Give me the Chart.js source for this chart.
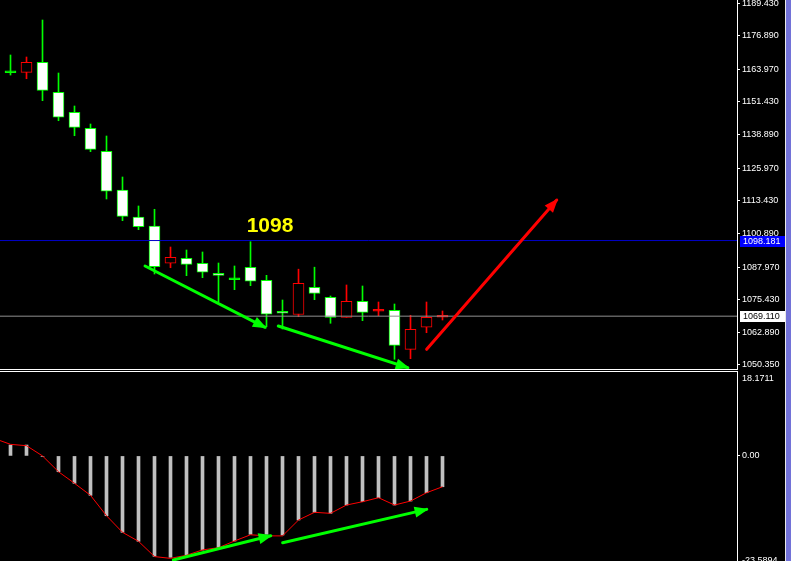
<!DOCTYPE html>
<html><head><meta charset="utf-8">
<script src="https://cdn.jsdelivr.net/npm/chart.js@4.4.0/dist/chart.umd.min.js"></script>
<style>
html,body{margin:0;padding:0;background:#7272d8;overflow:hidden;width:791px;height:561px}
#wrap{position:absolute;left:0;top:0;width:785px;height:561px;background:#000;border-right:1px solid #e8e8e8}
#top{position:absolute;left:0;top:0}
#bot{position:absolute;left:0;top:371px}
</style></head><body>
<div id="wrap"><canvas id="top" width="785" height="370"></canvas><canvas id="bot" width="785" height="190"></canvas></div>
<script>
// ---------- data ----------
const candleIdx = [0,1,2,3,4,5,6,7,8,9,10,11,12,13,14,15,16,17,18,19,20,21,22,23,24,25,26,27];
const opens  = [1163.07,1162.84,1166.68,1155.15,1147.47,1141.32,1132.48,1117.61,1107.23,1103.77,1089.44,1091.36,1089.44,1085.59,1083.52,1087.90,1082.90,1070.99,1069.76,1080.21,1076.37,1068.68,1074.83,1071.37,1071.37,1056.38,1064.84,1069.09];
const highs  = [1169.49,1168.72,1182.94,1162.57,1149.89,1142.97,1138.36,1122.60,1111.46,1110.19,1095.70,1094.55,1093.78,1089.55,1088.40,1097.74,1084.82,1075.33,1087.17,1087.94,1076.87,1081.10,1080.71,1074.56,1073.79,1069.45,1074.56,1071.10];
const lows   = [1161.80,1160.38,1151.93,1144.24,1138.47,1132.33,1114.15,1105.81,1102.35,1085.32,1087.74,1084.67,1083.90,1074.68,1079.29,1080.83,1065.07,1064.19,1068.91,1075.45,1066.38,1068.68,1067.38,1069.30,1052.54,1052.77,1062.76,1067.64];
const closes = [1163.05,1166.68,1155.92,1145.55,1141.70,1133.25,1117.11,1107.50,1103.50,1088.13,1091.74,1089.05,1085.98,1084.82,1083.50,1082.52,1069.84,1070.22,1081.75,1077.83,1068.68,1074.83,1070.60,1071.39,1057.92,1064.07,1068.68,1069.11];

const priceTicks = [1189.43,1176.89,1163.97,1151.43,1138.89,1125.97,1113.43,1100.89,1087.97,1075.43,1062.89,1050.35];
const priceMin = 1048.81, priceMax = 1190.63;
const bidLevel = 1098.181;
const lastLevel = 1069.11;

const noteText = '1098';
const noteIdx = 16.22, notePrice = 1103.6;

const arrowDown1 = [[8.41,1088.40],[15.91,1064.84]];
const arrowDown2 = [[16.74,1065.34],[24.83,1049.31]];
const arrowUp    = [[26.01,1056.38],[34.14,1113.76]];

const macdValues = [2.45,2.45,-0.1,-3.55,-6.15,-8.85,-13.43,-17.15,-19.17,-22.54,-22.77,-22.25,-21.13,-20.61,-19.11,-17.60,-17.60,-17.76,-14.39,-12.66,-12.89,-11.02,-10.28,-9.38,-11.02,-10.13,-8.26,-6.92];
const signalIdx = [-1,0,1,2,3,4,5,6,7,8,9,10,11,12,13,14,15,16,17,18,19,20,21,22,23,24,25,26,27];
const signalValues = [3.9,2.6,2.3,0.0,-3.55,-6.15,-8.85,-13.43,-17.15,-19.17,-22.6,-23.0,-22.3,-21.1,-20.6,-19.1,-17.7,-17.95,-17.95,-14.39,-12.66,-12.89,-11.02,-10.28,-9.38,-11.02,-10.13,-8.26,-6.92];
const macdTicks = [-23.5894, 0, 18.1711];
const macdTickLabels = ['-23.5894','0.00','18.1711'];
const macdMin = -23.5894, macdMax = 18.1711;

const divArrow1 = [[10.18,-23.37],[16.26,-17.92]];
const divArrow2 = [[17.01,-19.49],[26.01,-11.99]];

// ---------- setup ----------
const X_MIN = -0.65625, X_MAX = 45.40625;
const AXIS_W = 48;
Chart.defaults.font.family = "'Liberation Sans', Arial, sans-serif";
Chart.defaults.font.size = 9;
Chart.defaults.color = '#ffffff';

const GREEN = '#00ff00', RED = '#ff0000';
const isDoji = i => Math.abs(closes[i]-opens[i]) < 0.3;
const isBull = i => closes[i] > opens[i];

const bodyData = candleIdx.map(i => isDoji(i)
  ? {x:i, y:[opens[i]-0.35, opens[i]+0.35]}
  : {x:i, y:[Math.min(opens[i],closes[i]), Math.max(opens[i],closes[i])]});
const wickData = candleIdx.map(i => ({x:i, y:[lows[i], highs[i]]}));
const bodyBg = candleIdx.map(i => isDoji(i) ? (isBull(i)?RED:GREEN) : (isBull(i)?'#000000':'#ffffff'));
const bodyBorder = candleIdx.map(i => isBull(i)?RED:GREEN);
const wickColor = candleIdx.map(i => isBull(i)?RED:GREEN);

const pts = a => a.map(p => ({x:p[0], y:p[1]}));
const arrowDs = (a, color) => ({type:'line', data:pts(a), borderColor:color, backgroundColor:color,
  borderWidth:3, pointRadius:0, fill:false, arrowHead:true, borderCapStyle:'round'});
const levelDs = (v, color) => ({type:'line', data:[{x:X_MIN,y:v},{x:X_MAX,y:v}], borderColor:color,
  borderWidth:1, pointRadius:0, fill:false});

const arrowPlugin = {
  id:'arrows',
  afterDatasetsDraw(chart){
    const ctx = chart.ctx;
    chart.data.datasets.forEach((ds, di) => {
      if (!ds.arrowHead) return;
      const d = chart.getDatasetMeta(di).data;
      const a = d[d.length-2], b = d[d.length-1];
      const ang = Math.atan2(b.y-a.y, b.x-a.x);
      const L = 12, W = 5.5;
      const bx = b.x - L*Math.cos(ang), by = b.y - L*Math.sin(ang);
      ctx.save();
      ctx.fillStyle = ds.borderColor;
      ctx.beginPath();
      ctx.moveTo(b.x + 2*Math.cos(ang), b.y + 2*Math.sin(ang));
      ctx.lineTo(bx - W*Math.sin(ang), by + W*Math.cos(ang));
      ctx.lineTo(bx + W*Math.sin(ang), by - W*Math.cos(ang));
      ctx.closePath();
      ctx.fill();
      ctx.restore();
    });
  }
};

const topDecor = {
  id:'topDecor',
  afterDraw(chart){
    const ctx = chart.ctx, ca = chart.chartArea, ys = chart.scales.y, xs = chart.scales.x;
    ctx.save();
    // frame
    ctx.strokeStyle = '#ffffff'; ctx.lineWidth = 1;
    ctx.beginPath();
    ctx.moveTo(0, ca.bottom + 0.5); ctx.lineTo(ca.right + 1, ca.bottom + 0.5);
    ctx.moveTo(ca.right + 0.5, 0); ctx.lineTo(ca.right + 0.5, ca.bottom + 1);
    ctx.stroke();
    // note text
    ctx.fillStyle = '#ffff00';
    ctx.font = "bold 21px 'Liberation Sans', Arial, sans-serif";
    ctx.textAlign = 'center'; ctx.textBaseline = 'middle';
    ctx.fillText(noteText, xs.getPixelForValue(noteIdx), ys.getPixelForValue(notePrice));
    // price chips
    ctx.font = "9px 'Liberation Sans', Arial, sans-serif";
    ctx.textAlign = 'left';
    [[bidLevel,'#0000ff','#ffffff'],[lastLevel,'#ffffff','#000000']].forEach(([v,bg,fg]) => {
      const y = Math.round(ys.getPixelForValue(v));
      ctx.fillStyle = bg;
      ctx.fillRect(ca.right + 3, y - 5, 45, 11);
      ctx.fillStyle = fg;
      ctx.fillText(v.toFixed(3), ca.right + 6, y + 0.5);
    });
    ctx.restore();
  }
};

const botDecor = {
  id:'botDecor',
  afterDraw(chart){
    const ctx = chart.ctx, ca = chart.chartArea;
    ctx.save();
    ctx.strokeStyle = '#ffffff'; ctx.lineWidth = 1;
    ctx.beginPath();
    ctx.moveTo(0, 0.5); ctx.lineTo(ca.right + 1, 0.5);
    ctx.moveTo(ca.right + 0.5, 0); ctx.lineTo(ca.right + 0.5, chart.height);
    ctx.stroke();
    ctx.restore();
  }
};

const common = {
  animation:false, responsive:false, devicePixelRatio:1, events:[],
  plugins:{legend:{display:false}, tooltip:{enabled:false}}
};

new Chart(document.getElementById('top'), {
  type:'bar',
  data:{datasets:[
    arrowDs(arrowUp, RED),
    arrowDs(arrowDown1, GREEN),
    arrowDs(arrowDown2, GREEN),
    levelDs(bidLevel, '#0000c8'),
    levelDs(lastLevel, '#909090'),
    {type:'bar', data:bodyData, backgroundColor:bodyBg, borderColor:bodyBorder, borderWidth:1,
      borderSkipped:false, barThickness:11, grouped:false},
    {type:'bar', data:wickData, backgroundColor:wickColor, borderWidth:0, barThickness:1, grouped:false}
  ]},
  options:{...common,
    layout:{padding:{left:0,right:0,top:0,bottom:1}},
    scales:{
      x:{type:'linear', min:X_MIN, max:X_MAX, display:false, offset:false},
      y:{type:'linear', position:'right', min:priceMin, max:priceMax,
        afterBuildTicks: s => { s.ticks = priceTicks.map(v => ({value:v})); },
        afterFit: s => { s.width = AXIS_W; s.paddingTop = 0; s.paddingBottom = 0; },
        ticks:{autoSkip:false, padding:2, color:'#ffffff', callback: v => Number(v).toFixed(3)},
        grid:{drawOnChartArea:false, drawTicks:true, tickLength:3, color:'#ffffff', tickColor:'#ffffff'},
        border:{display:true, color:'#ffffff', width:1}
      }
    }
  },
  plugins:[arrowPlugin, topDecor]
});

new Chart(document.getElementById('bot'), {
  type:'bar',
  data:{datasets:[
    arrowDs(divArrow1, GREEN),
    arrowDs(divArrow2, GREEN),
    {type:'line', data:signalIdx.map((x,k) => ({x, y:signalValues[k]})), borderColor:RED, borderWidth:1,
      pointRadius:0, fill:false},
    {type:'bar', data:candleIdx.map(i => ({x:i, y:macdValues[i]})), backgroundColor:'#c0c0c0',
      borderWidth:0, barThickness:3, grouped:false}
  ]},
  options:{...common,
    layout:{padding:{left:0,right:0,top:4,bottom:0}},
    scales:{
      x:{type:'linear', min:X_MIN, max:X_MAX, display:false, offset:false},
      y:{type:'linear', position:'right', min:macdMin, max:macdMax,
        afterBuildTicks: s => { s.ticks = macdTicks.map(v => ({value:v})); },
        afterFit: s => { s.width = AXIS_W; s.paddingTop = 0; s.paddingBottom = 0; },
        ticks:{autoSkip:false, padding:2, color:'#ffffff', font:{size:9, lineHeight:0.7},
          callback: (v, k) => { const lab = macdTickLabels[macdTicks.indexOf(Number(v))]; return Number(v) === macdMax ? ['', lab] : lab; }},
        grid:{drawOnChartArea:false, drawTicks:true, tickLength:3, color:'#ffffff',
          tickColor: c => (c.tick && c.tick.value === macdMax) ? 'rgba(0,0,0,0)' : '#ffffff'},
        border:{display:false}
      }
    }
  },
  plugins:[arrowPlugin, botDecor]
});
</script>
</body></html>
